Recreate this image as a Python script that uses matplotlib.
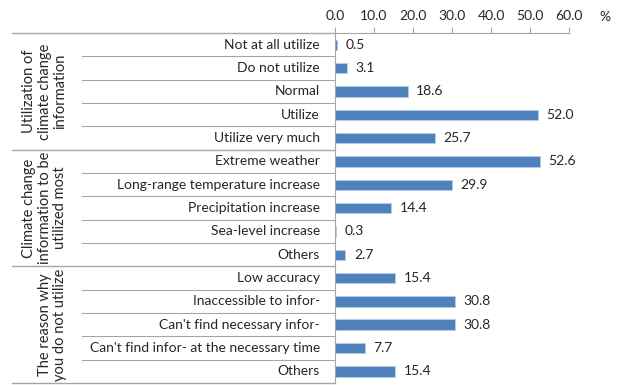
import matplotlib.pyplot as plt
from matplotlib.transforms import blended_transform_factory

# Survey results (%), grouped by question
group_titles = [
    "Utilization of\nclimate change\ninformation",
    "Climate change\ninformation to be\nutilized most",
    "The reason why\nyou do not utilize",
]
utilization_labels = ["Not at all utilize", "Do not utilize", "Normal", "Utilize", "Utilize very much"]
utilization_values = [0.5, 3.1, 18.6, 52.0, 25.7]
info_labels = ["Extreme weather", "Long-range temperature increase", "Precipitation increase",
               "Sea-level increase", "Others"]
info_values = [52.6, 29.9, 14.4, 0.3, 2.7]
reason_labels = ["Low accuracy", "Inaccessible to infor-", "Can't find necessary infor-",
                 "Can't find infor- at the necessary time", "Others"]
reason_values = [15.4, 30.8, 30.8, 7.7, 15.4]
xticks = [0, 10, 20, 30, 40, 50, 60]

groups = [utilization_labels, info_labels, reason_labels]
labels = utilization_labels + info_labels + reason_labels
values = utilization_values + info_values + reason_values

plt.rcParams['font.family'] = ['Lato', 'DejaVu Sans']
text_color = '#262626'
line_color = '#A6A6A6'
bar_color = '#4F81BD'
fs = 10

fig = plt.figure(figsize=(6.18, 3.85), dpi=100)
ax = fig.add_axes([0.542, 0.005, 0.379, 0.909])

n = len(values)
ypos = list(range(n))
ax.barh(ypos, values, height=0.45, color=bar_color, edgecolor='#B9CDE5', linewidth=0.6)
for y, v in zip(ypos, values):
    ax.annotate(f"{v:.1f}", (v, y), xytext=(6, 0), textcoords='offset points',
                va='center', ha='left', fontsize=fs, color=text_color)

ax.set_xlim(0, 60)
ax.set_ylim(n - 0.5, -0.5)
ax.xaxis.tick_top()
ax.set_xticks(xticks)
ax.set_xticklabels([f"{t:.1f}" for t in xticks], fontsize=fs, color=text_color)
ax.tick_params(axis='x', direction='out', length=4, color=line_color, pad=4)
ax.set_yticks([])
for side in ['right', 'bottom']:
    ax.spines[side].set_visible(False)
for side in ['top', 'left']:
    ax.spines[side].set_color(line_color)
    ax.spines[side].set_linewidth(0.8)
fig.text(0.979, 0.955, "%", fontsize=fs, color=text_color, ha='center', va='center')

# category labels and separators in the left-hand table area
trans = blended_transform_factory(ax.transAxes, ax.transData)
for y, lab in zip(ypos, labels):
    ax.text(-0.064, y, lab, transform=trans, ha='right', va='center',
            fontsize=fs, color=text_color)

start = 0
for title, grp in zip(group_titles, groups):
    stop = start + len(grp)
    ax.plot([-1.38, 0], [start - 0.5, start - 0.5], transform=trans, clip_on=False,
            color=line_color, lw=1.0)
    for k in range(start + 1, stop):
        ax.plot([-1.08, 0], [k - 0.5, k - 0.5], transform=trans, clip_on=False,
                color=line_color, lw=0.8)
    ax.text(-1.143, (start + stop - 1) / 2, title, transform=trans, rotation=90,
            ha='right', va='center', multialignment='center', fontsize=10.5,
            color=text_color, linespacing=1.15)
    start = stop
ax.plot([-1.38, 0], [n - 0.5, n - 0.5], transform=trans, clip_on=False,
        color=line_color, lw=1.0)

fig.savefig("out.png", dpi=100)
